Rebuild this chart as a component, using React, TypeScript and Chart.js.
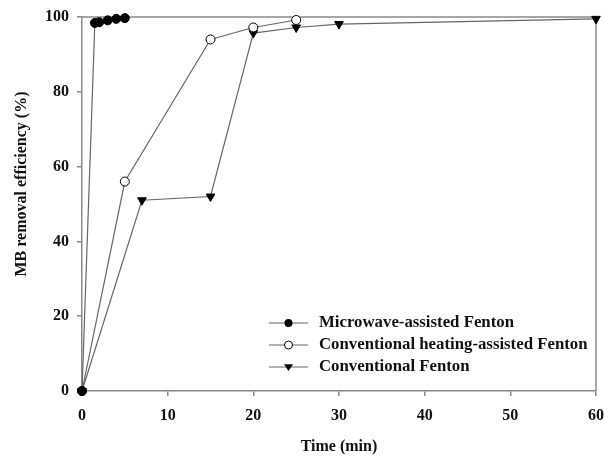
import React, { useEffect, useRef } from "react";
import { Chart, registerables } from "chart.js";

Chart.register(...registerables);

const mwTime = [0, 1.5, 2, 3, 4, 5];
const mwRemoval = [0, 98.4, 98.6, 99.1, 99.5, 99.7];
const chTime = [0, 5, 15, 20, 25];
const chRemoval = [0, 56, 94, 97.2, 99.2];
const cfTime = [0, 7, 15, 20, 25, 30, 60];
const cfRemoval = [0, 51, 52, 95.7, 97.2, 98.1, 99.5];
const seriesLabels = [
  "Microwave-assisted Fenton",
  "Conventional heating-assisted Fenton",
  "Conventional Fenton",
];
const xTitle = "Time (min)";
const yTitle = "MB removal efficiency (%)";

const FONT = "'Liberation Serif', 'Times New Roman', serif";
const TEXT = "#111";
const AXIS = "#8a8a8a";
const LINE = "#666666";

function drawMarker(ctx: CanvasRenderingContext2D, kind: number, x: number, y: number, r: number) {
  ctx.save();
  ctx.lineWidth = 1;
  ctx.strokeStyle = "#000";
  if (kind === 0) {
    ctx.fillStyle = "#000";
    ctx.beginPath();
    ctx.arc(x, y, r, 0, Math.PI * 2);
    ctx.fill();
  } else if (kind === 1) {
    ctx.fillStyle = "#fff";
    ctx.beginPath();
    ctx.arc(x, y, r, 0, Math.PI * 2);
    ctx.fill();
    ctx.stroke();
  } else {
    ctx.fillStyle = "#000";
    ctx.beginPath();
    ctx.moveTo(x - r, y - r * 0.6);
    ctx.lineTo(x + r, y - r * 0.6);
    ctx.lineTo(x, y + r * 0.9);
    ctx.closePath();
    ctx.fill();
  }
  ctx.restore();
}

const framePlugin = {
  id: "frame",
  beforeDatasetsDraw(chart: any) {
    const { ctx, chartArea } = chart;
    ctx.save();
    ctx.strokeStyle = AXIS;
    ctx.lineWidth = 1.5;
    ctx.beginPath();
    ctx.moveTo(chartArea.left, chartArea.top);
    ctx.lineTo(chartArea.right, chartArea.top);
    ctx.lineTo(chartArea.right, chartArea.bottom);
    ctx.stroke();
    ctx.restore();
  },
};

const yTitlePlugin = {
  id: "yTitle",
  afterDraw(chart: any) {
    const { ctx } = chart;
    ctx.save();
    ctx.translate(22, 184);
    ctx.rotate(-Math.PI / 2);
    ctx.fillStyle = TEXT;
    ctx.font = `bold 16px ${FONT}`;
    ctx.textAlign = "center";
    ctx.textBaseline = "middle";
    ctx.fillText(yTitle, 0, 0);
    ctx.restore();
  },
};

const legendPlugin = {
  id: "innerLegend",
  afterDraw(chart: any) {
    const { ctx } = chart;
    const x0 = 269;
    const x1 = 308;
    const rows = [323, 345, 367];
    ctx.save();
    chart.data.datasets.forEach((ds: any, i: number) => {
      const y = rows[i];
      ctx.strokeStyle = LINE;
      ctx.lineWidth = 1.2;
      ctx.beginPath();
      ctx.moveTo(x0, y);
      ctx.lineTo(x1, y);
      ctx.stroke();
      drawMarker(ctx, i, (x0 + x1) / 2, y, i === 2 ? 4.5 : 4);
      ctx.fillStyle = TEXT;
      ctx.font = `bold 16.8px ${FONT}`;
      ctx.textBaseline = "middle";
      ctx.textAlign = "left";
      ctx.fillText(ds.label, 319, y);
    });
    ctx.restore();
  },
};

const toXY = (xs: number[], ys: number[]) => xs.map((x, i) => ({ x, y: ys[i] }));

export default function App() {
  const ref = useRef<HTMLCanvasElement | null>(null);
  useEffect(() => {
    if (!ref.current) return;
    const common = {
      borderColor: LINE,
      borderWidth: 1.2,
      pointBorderColor: "#000",
      pointBorderWidth: 1,
      pointRadius: 4.5,
      tension: 0,
      clip: false as any,
    };
    const chart = new Chart(ref.current, {
      type: "line",
      data: {
        datasets: [
          {
            ...common,
            label: seriesLabels[0],
            data: toXY(mwTime, mwRemoval),
            pointStyle: "circle",
            pointBackgroundColor: "#000",
          },
          {
            ...common,
            label: seriesLabels[1],
            data: toXY(chTime, chRemoval),
            pointStyle: "circle",
            pointBackgroundColor: "#fff",
          },
          {
            ...common,
            label: seriesLabels[2],
            data: toXY(cfTime, cfRemoval),
            pointStyle: "triangle",
            pointRotation: 180,
            pointRadius: 5,
            pointBackgroundColor: "#000",
          },
        ],
      },
      options: {
        animation: false,
        responsive: false,
        layout: { padding: { left: 0, top: 17, right: 8, bottom: 0 } },
        plugins: {
          legend: { display: false },
          tooltip: { enabled: false },
        },
        scales: {
          x: {
            type: "linear",
            min: 0,
            max: 60,
            afterFit: (s: any) => {
              s.height = 65;
              s.paddingLeft = 0;
              s.paddingRight = 0;
            },
            ticks: {
              stepSize: 10,
              color: TEXT,
              font: { family: FONT, size: 16, weight: "bold" },
              padding: 10,
              maxRotation: 0,
            },
            grid: {
              display: true,
              drawOnChartArea: false,
              drawTicks: true,
              tickLength: 5,
              color: AXIS,
              lineWidth: 1.5,
            },
            border: { display: true, color: AXIS, width: 1.5 },
            title: {
              display: true,
              text: xTitle,
              color: TEXT,
              font: { family: FONT, size: 16, weight: "bold" },
              padding: { top: 0, bottom: 0 },
            },
          },
          y: {
            type: "linear",
            min: 0,
            max: 100,
            afterFit: (s: any) => {
              s.width = 82;
              s.paddingTop = 0;
              s.paddingBottom = 0;
            },
            ticks: {
              stepSize: 20,
              color: TEXT,
              font: { family: FONT, size: 16, weight: "bold" },
              padding: 8,
            },
            grid: {
              display: true,
              drawOnChartArea: false,
              drawTicks: true,
              tickLength: 5,
              color: AXIS,
              lineWidth: 1.5,
            },
            border: { display: true, color: AXIS, width: 1.5 },
            title: { display: false },
          },
        },
      },
      plugins: [framePlugin, legendPlugin, yTitlePlugin],
    });
    return () => chart.destroy();
  }, []);
  return (
    <div style={{ position: "absolute", left: 0, top: 0, width: 604, height: 456, background: "#fff" }}>
      <canvas ref={ref} width={604} height={456} style={{ width: 604, height: 456, display: "block" }} />
    </div>
  );
}
